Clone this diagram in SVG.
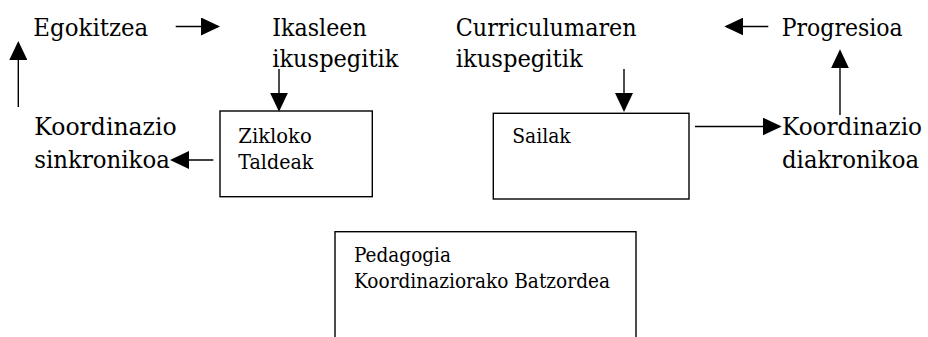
<svg xmlns="http://www.w3.org/2000/svg" width="928" height="337" viewBox="0 0 928 337">
  <style>
    .lbl { font-size: 24px; }
    .sm { font-size: 19.5px; }
    .box { fill: #fff; stroke: #000; stroke-width: 1.4; }
    .conn line { stroke: #000; stroke-width: 1.4; fill: none; marker-end: url(#head); }
  </style>
  <defs>
    <marker id="head" viewBox="0 0 19 18" refX="17" refY="9" markerWidth="19" markerHeight="18" markerUnits="userSpaceOnUse" orient="auto">
      <path d="M0,0 L19,9 L0,18 Z" fill="#000"/>
    </marker>
  </defs>

  <rect width="928" height="337" fill="#fff"/>

  <g font-family="DejaVu Serif, serif" fill="#000">
  <!-- free labels -->
  <g id="egokitzea">
    <text class="lbl" x="33.3" y="35.7" textLength="115" lengthAdjust="spacingAndGlyphs">Egokitzea</text>
  </g>
  <g id="ikasleen">
    <text class="lbl" x="272.3" y="35.7" textLength="94.4" lengthAdjust="spacingAndGlyphs">Ikasleen</text>
    <text class="lbl" x="272.3" y="66.7" textLength="126" lengthAdjust="spacingAndGlyphs">ikuspegitik</text>
  </g>
  <g id="sinkronikoa">
    <text class="lbl" x="34.3" y="135" textLength="142.4" lengthAdjust="spacingAndGlyphs">Koordinazio</text>
    <text class="lbl" x="34.3" y="168" textLength="135.5" lengthAdjust="spacingAndGlyphs">sinkronikoa</text>
  </g>
  <g id="curriculumaren">
    <text class="lbl" x="455.7" y="35.7" textLength="181" lengthAdjust="spacingAndGlyphs">Curriculumaren</text>
    <text class="lbl" x="455.7" y="66.7" textLength="127" lengthAdjust="spacingAndGlyphs">ikuspegitik</text>
  </g>
  <g id="progresioa">
    <text class="lbl" x="781.7" y="35.7" textLength="121" lengthAdjust="spacingAndGlyphs">Progresioa</text>
  </g>
  <g id="diakronikoa">
    <text class="lbl" x="782" y="135" textLength="140" lengthAdjust="spacingAndGlyphs">Koordinazio</text>
    <text class="lbl" x="782" y="168" textLength="137" lengthAdjust="spacingAndGlyphs">diakronikoa</text>
  </g>

  <!-- boxes -->
  <g id="zikloko-taldeak">
    <rect class="box" x="220" y="111" width="152.3" height="85.7"/>
    <text class="sm" x="238.3" y="142.7" textLength="73.4" lengthAdjust="spacingAndGlyphs">Zikloko</text>
    <text class="sm" x="238.3" y="169" textLength="75" lengthAdjust="spacingAndGlyphs">Taldeak</text>
  </g>
  <g id="sailak">
    <rect class="box" x="493.3" y="113.3" width="195.7" height="85.7"/>
    <text class="sm" x="512.3" y="142.7" textLength="58.4" lengthAdjust="spacingAndGlyphs">Sailak</text>
  </g>
  <g id="batzordea">
    <rect class="box" x="335" y="231.7" width="301" height="130"/>
    <text class="sm" x="354" y="261.7" textLength="97" lengthAdjust="spacingAndGlyphs">Pedagogia</text>
    <text class="sm" x="354" y="288.3" textLength="256" lengthAdjust="spacingAndGlyphs">Koordinaziorako Batzordea</text>
  </g>
  </g>

  <!-- connectors -->
  <g id="connectors" class="conn">
    <line x1="18.3" y1="107" x2="18.3" y2="43"/>
    <line x1="175.7" y1="26.5" x2="218" y2="26.5"/>
    <line x1="279" y1="69" x2="279" y2="109.7"/>
    <line x1="213.3" y1="160" x2="172" y2="160"/>
    <line x1="624" y1="69" x2="624" y2="110"/>
    <line x1="695" y1="126.5" x2="779.7" y2="126.5"/>
    <line x1="840" y1="115" x2="840" y2="51.3"/>
    <line x1="768.3" y1="26.5" x2="726.3" y2="26.5"/>
  </g>
</svg>
